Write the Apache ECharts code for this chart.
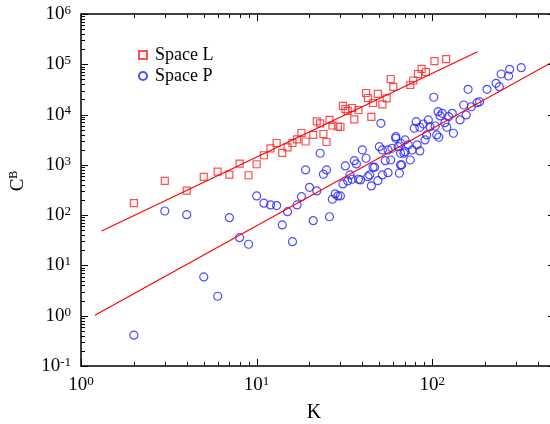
<!DOCTYPE html>
<html>
<head>
<meta charset="utf-8">
<script src="https://cdn.jsdelivr.net/npm/echarts@6/dist/echarts.min.js"></script>
<style>html,body{margin:0;padding:0;background:#fff;}#c{width:550px;height:424px;}</style>
</head>
<body>
<div id="c"></div>
<script>
// ---- data ----
const spaceL_K = [2,3,4,5,6,7,8,9,10,11,12,13,14,15,16,17,18,19,21,22,23,24,25,26,27,29,30,31,32,33,35,36,38,42,43,45,46,49,52,55,58,60,75,78,83,87,92,103,120];
const spaceL_C = [173,479,307,575,733,638,1057,621,1028,1552,2118,2723,1726,2218,2723,3199,4305,2917,3929,7290,6653,4111,2851,7816,6067,5797,5665,14825,12920,11800,13520,8000,12340,26870,21380,8960,17000,25700,15880,20900,51000,35400,38700,47600,64100,80700,70300,116000,127000];

const spaceP_K = [2,3,4,5,6,7,8,9,10,11,12,13,14,15,16,17,18,19,20,21,22,23,24,25,26,27,28,29,30,31,32,33,34,35,36,37,38,39,40,42,43,44,45,46,47,49,50,51,52,52,54,56,56,58,59,62,64,65,66,67,69,
  321,276,247,272,231,241,205,160,102,186,180,167,151,156,144,130,124,132,114,111,108,118,121,104,109,106,95,97,89,85,81,79,93,91,85,75,66,70,73,70,66,62,77,82];
const spaceP_C = [0.41,121,102,5.9,2.44,89,35.7,26.4,241,173,160,155,63.8,117,29.7,160,233,792,358,77.8,303,1702,650,792,93,207,264,241,241,417,951,479,630,517,1211,1042,517,501,1977,1352,582,630,381,895,900,485,2300,6710,630,1977,1211,700,1977,1250,2138,3640,2300,681,2687,995,1702,
  85700,79500,64100,58500,41900,35900,31800,31800,22100,18000,17250,14300,15500,9820,7810,10600,9080,4250,10600,9380,11400,6900,5590,5930,3540,3930,7810,5750,6500,5590,7230,5350,3930,3130,1890,1250,995,3130,2490,1830,1700,3380,1977,2490];

// fitted lines (endpoints)
const fitL_K = [1.31, 181];
const fitL_C = [48.5, 177800];
const fitP_K = [1.2, 500];
const fitP_C = [1.02, 118600];

// axis ranges and tick values
const X_MIN = 1, X_MAX = 500;
const Y_MIN = 0.1, Y_MAX = 1e6;
const xMajorTicks = [1, 10, 100];
const yMajorTicks = [0.1, 1, 10, 100, 1000, 10000, 100000, 1000000];
const xMinorTicks = [2,3,4,5,6,7,8,9,20,30,40,50,60,70,80,90,200,300,400];
const yMinorTicks = [];
[0.1,1,10,100,1000,10000,100000].forEach(function(d){ for (let m = 2; m <= 9; m++) yMinorTicks.push(m*d); });

const FONT = 'Liberation Serif';
const zip = (a, b) => a.map((v, i) => [v, b[i]]);

function supLabel(v) {
  const e = Math.log10(v);
  const r = Math.round(e);
  if (Math.abs(e - r) > 1e-6) return '';
  return '{b|10}{s|' + r + '}';
}
const labelRich = {
  b: {fontFamily: FONT, fontSize: 19, color: '#000', lineHeight: 20},
  s: {fontFamily: FONT, fontSize: 13, color: '#000', lineHeight: 13, verticalAlign: 'top'}
};

function axisBase(pos, showLabel, isX) {
  return {
    type: 'log', logBase: 10,
    position: pos,
    min: isX ? X_MIN : Y_MIN, max: isX ? X_MAX : Y_MAX,
    axisLine: {show: true, onZero: false, lineStyle: {color: '#000', width: 1.5}},
    axisTick: {show: false},
    minorTick: {show: false},
    splitLine: {show: false},
    axisLabel: {show: showLabel, formatter: supLabel, rich: labelRich, margin: isX ? 9 : 10,
                showMaxLabel: isX ? false : true, hideOverlap: false},
  };
}

const chart = echarts.init(document.getElementById('c'), null, {renderer: 'canvas'});
const xBottom = axisBase('bottom', true, true);
xBottom.name = 'K';
xBottom.nameLocation = 'middle';
xBottom.nameGap = 37;
xBottom.nameTextStyle = {fontFamily: FONT, fontSize: 20, color: '#000', padding: [0, 8, 0, 0]};

const yName = {
  type: 'text', x: 18, y: 181, rotation: Math.PI / 2,
  style: {text: '{c|C}{s|B}', align: 'center', verticalAlign: 'middle',
    rich: {c: {fontFamily: FONT, fontSize: 19, color: '#000', lineHeight: 20},
           s: {fontFamily: FONT, fontSize: 12, color: '#000', lineHeight: 12, verticalAlign: 'top'}}}
};

chart.setOption({
  animation: false,
  backgroundColor: '#fff',
  grid: {left: 81, top: 14, right: -5, bottom: 58, containLabel: false, outerBoundsMode: 'none'},
  xAxis: [xBottom, axisBase('top', false, true)],
  yAxis: [axisBase('left', true, false), axisBase('right', false, false)],
  legend: {
    data: ['Space L', 'Space P'],
    orient: 'vertical', left: 133, top: 41,
    itemWidth: 8, itemHeight: 8, itemGap: 3,
    textStyle: {fontFamily: FONT, fontSize: 18, color: '#000', padding: [0, 0, 0, 3], lineHeight: 18}
  },
  graphic: [yName],
  series: [
    {name: 'Space L', type: 'scatter', symbol: 'rect', symbolSize: 7, data: zip(spaceL_K, spaceL_C),
     itemStyle: {color: 'rgba(0,0,0,0)', borderColor: '#f22', borderWidth: 1.2}, z: 3},
    {name: 'Space P', type: 'scatter', symbol: 'circle', symbolSize: 8, data: zip(spaceP_K, spaceP_C),
     itemStyle: {color: 'rgba(0,0,0,0)', borderColor: '#22f', borderWidth: 1.2}, z: 3},
    {name: 'fitL', type: 'line', data: zip(fitL_K, fitL_C), showSymbol: false, symbol: 'none',
     lineStyle: {color: '#f00', width: 1.2}, z: 4},
    {name: 'fitP', type: 'line', data: zip(fitP_K, fitP_C), showSymbol: false, symbol: 'none',
     lineStyle: {color: '#f00', width: 1.2}, z: 4, clip: true}
  ]
});

// tick marks placed through the chart's own log scales
function tickLines(values, len, isX) {
  const out = [];
  values.forEach(function (v) {
    if (isX) {
      const b = chart.convertToPixel({gridIndex: 0}, [v, Y_MIN]);
      const t = chart.convertToPixel({gridIndex: 0}, [v, Y_MAX]);
      const x = Math.round(b[0]) + 0.5;
      out.push({type: 'line', silent: true, z: 100, shape: {x1: x, y1: b[1], x2: x, y2: b[1] - len}, style: {stroke: '#000', lineWidth: 1}});
      out.push({type: 'line', silent: true, z: 100, shape: {x1: x, y1: t[1], x2: x, y2: t[1] + len}, style: {stroke: '#000', lineWidth: 1}});
    } else {
      const l = chart.convertToPixel({gridIndex: 0}, [X_MIN, v]);
      const r = chart.convertToPixel({gridIndex: 0}, [X_MAX, v]);
      const y = Math.round(l[1]) + 0.5;
      out.push({type: 'line', silent: true, z: 100, shape: {x1: l[0], y1: y, x2: l[0] + len, y2: y}, style: {stroke: '#000', lineWidth: 1}});
      out.push({type: 'line', silent: true, z: 100, shape: {x1: r[0], y1: y, x2: r[0] - len, y2: y}, style: {stroke: '#000', lineWidth: 1}});
    }
  });
  return out;
}
const ticks = [].concat(
  tickLines(xMajorTicks, 7, true), tickLines(xMinorTicks, 4, true),
  tickLines(yMajorTicks, 7, false), tickLines(yMinorTicks, 4, false)
);
chart.setOption({graphic: [yName].concat(ticks)}, {replaceMerge: ['graphic']});
</script>
</body>
</html>
